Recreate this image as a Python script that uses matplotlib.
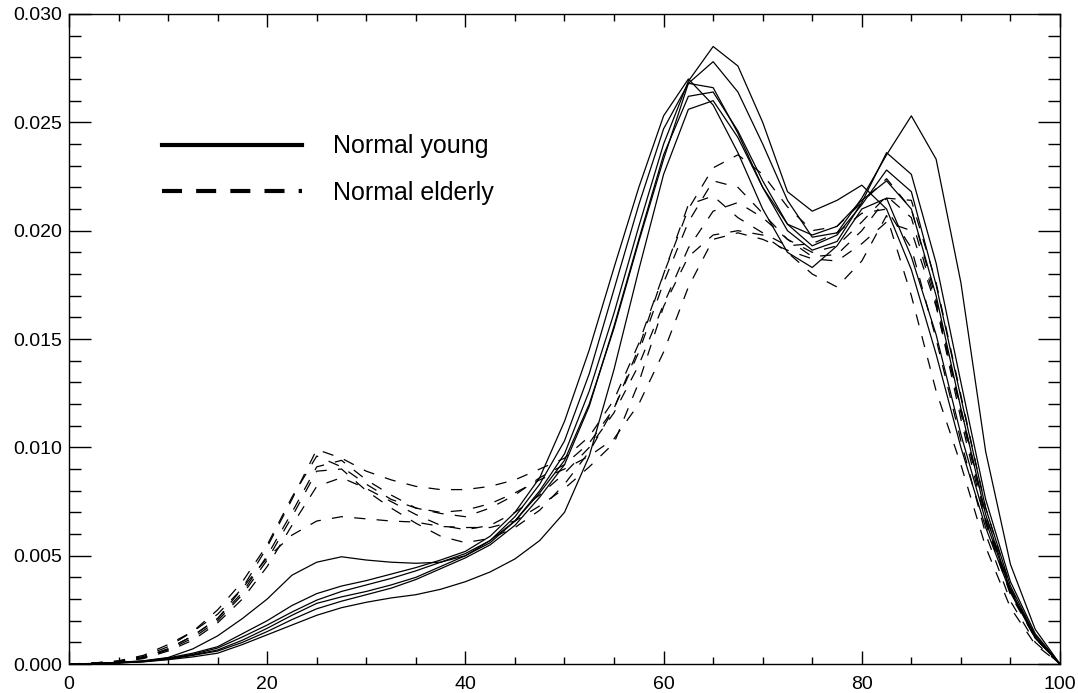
import numpy as np
import matplotlib.pyplot as plt
from matplotlib.lines import Line2D
from matplotlib.ticker import MultipleLocator, FormatStrFormatter

plt.rcParams['font.family'] = ['Liberation Sans', 'DejaVu Sans']

# sample positions (0..100 every 2.5)
x = np.linspace(0, 100, 41)

# curves, in units of 1e-3
young_1 = [0, 0.03, 0.08, 0.15, 0.3, 0.7, 1.3, 2.1, 3.0, 4.1, 4.7, 4.95, 4.8, 4.7, 4.65, 4.7, 5.0, 5.6, 6.6, 8.0,
           9.7, 12.6, 16.2, 20.2, 24.0, 26.9, 28.5, 27.6, 25.0, 21.8, 20.9, 21.4, 22.1, 21.0, 18.2, 14.3, 10.0, 6.3, 3.3, 1.2, 0]
young_2 = [0, 0.02, 0.06, 0.12, 0.25, 0.45, 0.74, 1.25, 1.8, 2.4, 2.95, 3.35, 3.65, 3.95, 4.3, 4.7, 5.1, 5.7, 6.6, 7.9,
           9.4, 12.0, 15.5, 19.5, 23.3, 26.8, 27.8, 26.4, 24.0, 21.4, 19.7, 19.9, 21.5, 23.5, 25.3, 23.3, 17.6, 9.8, 4.6, 1.6, 0]
young_3 = [0, 0.02, 0.07, 0.14, 0.28, 0.5, 0.8, 1.4, 2.0, 2.7, 3.25, 3.6, 3.85, 4.15, 4.45, 4.8, 5.2, 5.9, 7.0, 8.6,
           11.2, 14.5, 18.3, 22.0, 25.3, 27.0, 25.8, 23.6, 21.0, 19.0, 18.3, 19.3, 21.0, 21.5, 18.8, 15.2, 10.6, 6.6, 3.4, 1.3, 0]
young_4 = [0, 0.02, 0.06, 0.12, 0.25, 0.42, 0.65, 1.1, 1.65, 2.25, 2.8, 3.1, 3.35, 3.65, 4.0, 4.5, 5.0, 5.7, 6.8, 8.3,
           10.3, 13.4, 17.3, 21.2, 24.7, 26.8, 26.6, 24.5, 22.0, 20.0, 19.1, 19.5, 21.3, 23.6, 22.6, 18.5, 13.0, 7.6, 3.8, 1.4, 0]
young_5 = [0, 0.02, 0.05, 0.11, 0.22, 0.4, 0.6, 1.0, 1.5, 2.05, 2.55, 2.9, 3.2, 3.5, 3.9, 4.4, 4.9, 5.5, 6.4, 7.7,
           9.2, 11.9, 15.6, 19.6, 23.5, 26.2, 26.4, 24.6, 22.3, 20.3, 19.3, 19.8, 21.2, 22.8, 21.8, 17.5, 12.3, 7.2, 3.6, 1.3, 0]
young_6 = [0, 0.02, 0.05, 0.1, 0.2, 0.33, 0.5, 0.9, 1.35, 1.8, 2.25, 2.6, 2.85, 3.05, 3.2, 3.45, 3.8, 4.25, 4.85, 5.7,
           7.0, 9.6, 13.6, 18.2, 22.6, 25.6, 26.0, 24.3, 22.0, 20.3, 19.8, 20.2, 21.4, 22.3, 21.0, 17.0, 11.8, 6.9, 3.4, 1.2, 0]

elderly_1 = [0, 0.05, 0.15, 0.4, 0.9, 1.5, 2.3, 3.5, 5.4, 7.6, 9.9, 9.5, 8.9, 8.5, 8.2, 8.05, 8.05, 8.2, 8.5, 9.0,
             9.5, 10.5, 12.2, 14.8, 18.0, 21.0, 22.9, 23.5, 22.6, 21.1, 20.0, 20.2, 21.3, 22.4, 21.0, 16.8, 11.6, 6.7, 3.3, 1.2, 0]
elderly_2 = [0, 0.04, 0.12, 0.3, 0.7, 1.3, 2.1, 3.3, 5.0, 7.0, 9.1, 9.4, 8.5, 7.8, 7.2, 6.95, 6.8, 7.2, 7.8, 8.6,
             9.2, 10.2, 11.8, 14.4, 17.6, 20.4, 22.3, 22.0, 20.8, 19.6, 19.0, 19.3, 20.4, 21.6, 20.6, 16.6, 11.3, 6.5, 3.2, 1.2, 0]
elderly_3 = [0, 0.04, 0.1, 0.28, 0.65, 1.2, 2.0, 3.2, 4.8, 6.8, 8.9, 9.0, 8.0, 7.2, 6.5, 5.9, 5.6, 5.8, 6.3, 7.1,
             8.3, 9.8, 11.8, 14.6, 18.0, 21.2, 21.6, 20.6, 19.9, 19.3, 19.4, 19.9, 20.8, 21.0, 19.2, 15.0, 10.3, 6.0, 2.9, 1.0, 0]
elderly_4 = [0, 0.03, 0.1, 0.25, 0.6, 1.1, 1.9, 3.0, 4.5, 6.4, 8.2, 8.6, 8.1, 7.5, 6.9, 6.4, 6.2, 6.4, 7.0, 7.8,
             8.8, 10.0, 11.6, 13.8, 16.6, 19.2, 20.9, 21.3, 20.6, 19.6, 18.8, 18.9, 20.0, 21.5, 21.4, 17.6, 12.4, 7.2, 3.5, 1.3, 0]
elderly_5 = [0, 0.04, 0.12, 0.3, 0.7, 1.3, 2.1, 3.5, 4.9, 5.95, 6.6, 6.8, 6.7, 6.6, 6.55, 6.35, 6.3, 6.3, 6.6, 7.3,
             8.1, 9.1, 10.2, 13.0, 16.5, 18.8, 19.8, 20.0, 19.8, 19.0, 18.0, 17.4, 18.6, 20.7, 17.0, 12.6, 9.2, 5.4, 2.6, 0.9, 0]
elderly_6 = [0, 0.05, 0.13, 0.35, 0.8, 1.5, 2.5, 3.8, 5.5, 7.7, 9.6, 9.1, 8.3, 7.6, 7.2, 7.0, 7.1, 7.4, 7.9, 8.5,
             9.0, 9.6, 10.4, 12.0, 14.4, 17.4, 19.6, 19.9, 19.6, 19.1, 18.7, 18.6, 19.4, 20.4, 20.0, 16.5, 11.8, 6.9, 3.4, 1.2, 0]

young = [young_1, young_2, young_3, young_4, young_5, young_6]
elderly = [elderly_1, elderly_2, elderly_3, elderly_4, elderly_5, elderly_6]
labels = ['Normal young', 'Normal elderly']

fig = plt.figure(figsize=(10.78, 6.93), dpi=100)
ax = fig.add_axes([0.064, 0.0418, 0.9193, 0.938])

for yy in young:
    ax.plot(x, np.array(yy) * 1e-3, color='black', lw=0.9)
for yy in elderly:
    ax.plot(x, np.array(yy) * 1e-3, color='black', lw=0.9, dashes=(9, 9))

ax.set_xlim(0, 100)
ax.set_ylim(0, 0.030)
ax.xaxis.set_major_locator(MultipleLocator(20))
ax.xaxis.set_minor_locator(MultipleLocator(5))
ax.yaxis.set_major_locator(MultipleLocator(0.005))
ax.yaxis.set_minor_locator(MultipleLocator(0.001))
ax.yaxis.set_major_formatter(FormatStrFormatter('%.3f'))

ax.tick_params(which='both', direction='in', top=True, right=True, width=1, labelsize=14, pad=5)
ax.tick_params(axis='x', which='major', length=9.5, pad=8.5)
ax.tick_params(axis='x', which='minor', length=5)
ax.tick_params(axis='y', which='major', length=16)
ax.tick_params(axis='y', which='minor', length=8.5)
for s in ax.spines.values():
    s.set_linewidth(1.0)

handles = [Line2D([], [], color='black', lw=3),
           Line2D([], [], color='black', lw=3, dashes=(4.8, 3.4))]
ax.legend(handles, labels, loc='upper left', bbox_to_anchor=(0.094, 0.815), frameon=False,
          fontsize=18, handlelength=5.6, handletextpad=1.25, labelspacing=0.9,
          borderpad=0, borderaxespad=0)

plt.savefig('out.png', dpi=100)
